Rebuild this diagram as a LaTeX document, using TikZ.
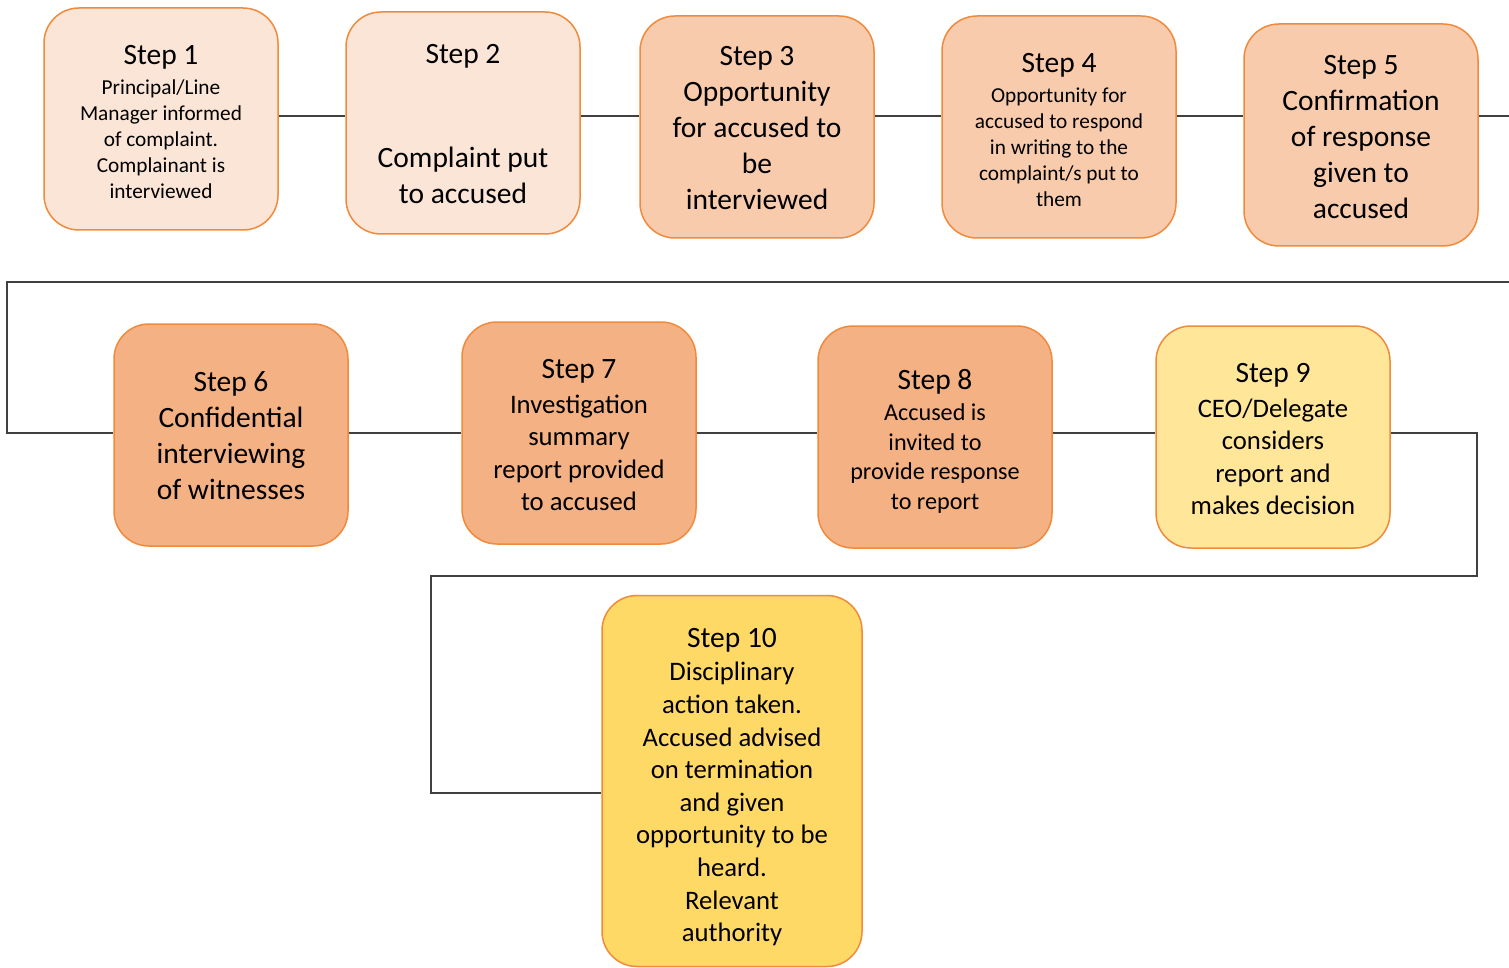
\documentclass[tikz,border=0pt]{standalone}
\usepackage{fontspec}
\setmainfont{Carlito}
\definecolor{c1}{HTML}{FBE5D6}
\definecolor{c2}{HTML}{F8CBAD}
\definecolor{c3}{HTML}{F4B183}
\definecolor{c4}{HTML}{FFE699}
\definecolor{c5}{HTML}{FFD966}
\definecolor{bord}{HTML}{F08A3C}
\definecolor{lin}{HTML}{404040}
\newcommand{\fbig}{\fontsize{29.5}{36}\selectfont}
\newcommand{\fsm}{\fontsize{21.3}{26}\selectfont}
\newcommand{\fmd}{\fontsize{26.7}{32.6}\selectfont}
\newcommand{\fmdb}{\fontsize{24.2}{29.5}\selectfont}
\newcommand{\hd}[1]{{\fbig #1}}
\begin{document}
\begin{tikzpicture}[x=1pt,y=-1pt,
  stepbox/.style={draw=bord,line width=1.5pt,rounded corners=35pt,
    minimum width=234pt,minimum height=222pt,inner sep=0pt},
  steptext/.style={align=center,inner sep=0pt,text=black},
  conn/.style={draw=lin,line width=1.5pt}]
\useasboundingbox (0,0) rectangle (1509,968);
% boxes
\node[stepbox,fill=c1] (s1) at (161,119) {};
\node[stepbox,fill=c1] (s2) at (463,123) {};
\node[stepbox,fill=c2] (s3) at (757,127) {};
\node[stepbox,fill=c2] (s4) at (1059,127) {};
\node[stepbox,fill=c2] (s5) at (1361,135) {};
\node[stepbox,fill=c3] (s6) at (231,435) {};
\node[stepbox,fill=c3] (s7) at (579,433) {};
\node[stepbox,fill=c3] (s8) at (935,437) {};
\node[stepbox,fill=c4] (s9) at (1273,437) {};
\node[stepbox,fill=c5,minimum width=260pt,minimum height=371pt] (s10) at (732,781) {};
% texts
\node[steptext,font=\fsm] (t1) at ([yshift=-3pt]s1.center) {\hd{Step 1}\\[4pt]Principal/Line\\Manager informed\\of complaint.\\Complainant is\\interviewed};
\node[steptext,font=\fbig] (t2) at ([yshift=-1pt]s2.center) {Step 2\\[68pt]Complaint put\\to accused};
\node[steptext,font=\fbig] (t3) at ([yshift=-1pt]s3.center) {Step 3\\Opportunity\\for accused to\\be\\interviewed};
\node[steptext,font=\fsm] (t4) at ([yshift=-3pt]s4.center) {\hd{Step 4}\\[4pt]Opportunity for\\accused to respond\\in writing to the\\complaint/s put to\\them};
\node[steptext,font=\fbig] (t5) at ([yshift=-2pt]s5.center) {Step 5\\Confirmation\\of response\\given to\\accused};
\node[steptext,font=\fbig] (t6) at ([yshift=-1pt]s6.center) {Step 6\\Confidential\\interviewing\\of witnesses};
\node[steptext,font=\fmd] (t7) at ([yshift=-2pt]s7.center) {\hd{Step 7}\\[2.5pt]Investigation\\summary\\report provided\\to accused};
\node[steptext,font=\fmdb] (t8) at ([yshift=-4pt]s8.center) {\hd{Step 8}\\[2pt]Accused is\\invited to\\provide response\\to report};
\node[steptext,font=\fmd] (t9) at ([yshift=-2pt]s9.center) {\hd{Step 9}\\[2.5pt]CEO/Delegate\\considers\\report and\\makes decision};
\node[steptext,font=\fmd] (t10) at ([yshift=-6pt]s10.center) {\hd{Step 10}\\[1pt]Disciplinary\\action taken.\\Accused advised\\on termination\\and given\\opportunity to be\\heard.\\Relevant\\authority};
% connectors
\coordinate (r1) at (0,116);
\coordinate (r2) at (0,433);
\coordinate (e1) at (1509,116);
\coordinate (w1) at (1509,282);
\coordinate (w2) at (7,282);
\coordinate (w3) at (7,433);
\coordinate (v1) at (1477,433);
\coordinate (v2) at (1477,576);
\coordinate (v3) at (431,576);
\coordinate (v4) at (431,793);
\draw[conn] (s1.east|-r1) -- (s2.west|-r1);
\draw[conn] (s2.east|-r1) -- (s3.west|-r1);
\draw[conn] (s3.east|-r1) -- (s4.west|-r1);
\draw[conn] (s4.east|-r1) -- (s5.west|-r1);
\draw[conn] (s5.east|-r1) -- (e1);
\draw[conn] (w1) -- (w2) -- (w3) -- (s6.west|-r2);
\draw[conn] (s6.east|-r2) -- (s7.west|-r2);
\draw[conn] (s7.east|-r2) -- (s8.west|-r2);
\draw[conn] (s8.east|-r2) -- (s9.west|-r2);
\draw[conn] (s9.east|-r2) -- (v1) -- (v2) -- (v3) -- (v4) -- (s10.west|-v4);
\end{tikzpicture}
\end{document}
